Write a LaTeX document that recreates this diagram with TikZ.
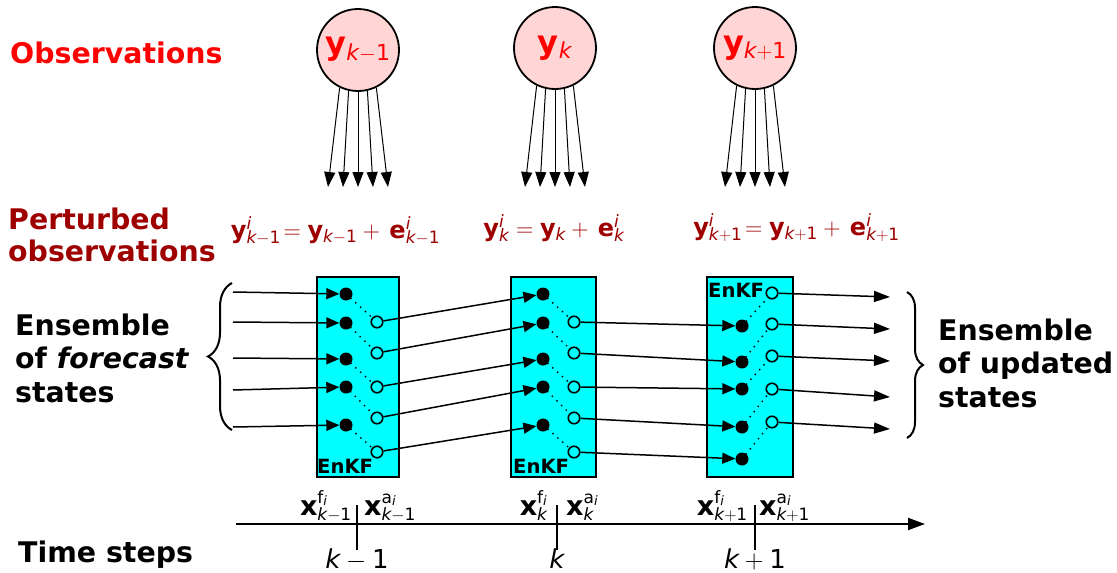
\RequirePackage{fix-cm}
\documentclass[tikz,border=0pt]{standalone}
\usepackage{fontspec}
\setmainfont{DejaVu Sans}
\usetikzlibrary{arrows.meta,decorations.pathreplacing}
\definecolor{obsred}{RGB}{255,0,0}
\definecolor{pertred}{RGB}{158,0,0}
\definecolor{circfill}{RGB}{255,213,213}
\definecolor{boxcyan}{RGB}{0,255,255}
\DeclareMathSizes{32}{32}{22}{16}
\DeclareMathSizes{24}{24}{17}{13}
\DeclareMathSizes{27}{27}{17}{13}
\DeclareMathSizes{26}{26}{18}{13}
\begin{document}
\begin{tikzpicture}[x=1pt,y=-1pt,
  obs/.style={circle,draw=black,line width=1.8pt,fill=circfill,minimum size=82pt,inner sep=0pt,text=obsred,font=\fontsize{32}{36}\selectfont},
  fanarrow/.style={line width=1pt,-{Triangle[length=15pt,width=11pt]}},
  kfbox/.style={draw=black,line width=1.2pt,fill=boxcyan,minimum height=200pt,inner sep=0pt},
  fdot/.style={circle,fill=black,minimum size=13pt,inner sep=0pt},
  adot/.style={circle,draw=black,line width=1.6pt,minimum size=11.5pt,inner sep=0pt},
  link/.style={line width=1.5pt,-{Triangle[length=13pt,width=11pt]}},
  outarrow/.style={line width=1.5pt,-{Triangle[length=16pt,width=11pt]}},
  dotline/.style={line width=2pt,line cap=round,dash pattern=on 0pt off 6.5pt},
  lbl/.style={inner sep=0pt,font=\bfseries\fontsize{28.4}{34}\selectfont},
  eqn/.style={inner sep=0pt,text=pertred,font=\fontsize{24}{28}\selectfont,anchor=base},
  kflbl/.style={inner sep=0pt,font=\bfseries\fontsize{19.6}{22}\selectfont,anchor=base west},
  tlbl/.style={inner sep=0pt,font=\fontsize{27}{30}\selectfont},
  idx/.style={inner sep=0pt,font=\fontsize{26}{30}\selectfont,anchor=base},
  brace/.style={line width=2pt,decorate},
  axis/.style={line width=2pt,-{Triangle[length=17pt,width=12pt]}},
  tick/.style={line width=2.5pt}]
\useasboundingbox (0,0) rectangle (1117,573);

% ---- labels on the left
\node[lbl,text=obsred,anchor=base west] (tobs) at (10,63) {Observations};
\node[lbl,text=pertred,anchor=base west] (tpert1) at (8,229) {Perturbed};
\node[lbl,text=pertred,anchor=base west] (tpert2) at (8,261) {observations};
\node[lbl,anchor=base west] (tfc1) at (15,335) {Ensemble};
\node[lbl,anchor=base west] (tfc2) at (15,368.5) {of \textit{forecast}};
\node[lbl,anchor=base west] (tfc3) at (15,402) {states};
\node[lbl,anchor=base west] (tup1) at (938,340) {Ensemble};
\node[lbl,anchor=base west] (tup2) at (938,373.5) {of updated};
\node[lbl,anchor=base west] (tup3) at (938,407) {states};
\node[lbl,anchor=base west] (tts) at (18,562) {Time steps};

% ---- observation circles and fans
\node[obs] (o1) at (358,50) {$\mathbf{y}_{\mathit{k}-\mathrm{1}}$};
\node[obs] (o2) at (555,48) {$\mathbf{y}_{\mathit{k}}$};
\node[obs] (o3) at (755,48) {$\mathbf{y}_{\mathit{k}+\mathrm{1}}$};
\foreach \o/\cx in {o1/358,o2/555,o3/755}{
  \foreach \a/\dx [count=\j] in {-116/-30,-103/-15,-90/0,-77/15,-64/30}{
    \coordinate (\o e\j) at (\cx+\dx,187);
    \draw[fanarrow] (\o.\a) -- (\o e\j);
  }
}

% ---- perturbed observations
\node[eqn] (eq1) at (335.5,238) {$\mathbf{y}^{\mathit{i}}_{\mathit{k}-\mathrm{1}}\!=\mathbf{y}_{\mathit{k}-\mathrm{1}}+\,\mathbf{e}^{\mathit{i}}_{\mathit{k}-\mathrm{1}}$};
\node[eqn] (eq2) at (554,236) {$\mathbf{y}^{\mathit{i}}_{\mathit{k}}=\mathbf{y}_{\mathit{k}}+\,\mathbf{e}^{\mathit{i}}_{\mathit{k}}$};
\node[eqn] (eq3) at (796.5,235) {$\mathbf{y}^{\mathit{i}}_{\mathit{k}+\mathrm{1}}\!=\mathbf{y}_{\mathit{k}+\mathrm{1}}+\,\mathbf{e}^{\mathit{i}}_{\mathit{k}+\mathrm{1}}$};

% ---- EnKF boxes
\node[kfbox,minimum width=82pt] (b1) at (358,377) {};
\node[kfbox,minimum width=85pt] (b2) at (553.5,377) {};
\node[kfbox,minimum width=86pt] (b3) at (750,377) {};
\node[kflbl] (k1) at (317,473) {EnKF};
\node[kflbl] (k2) at (513,473) {EnKF};
\node[kflbl] (k3) at (708,297) {EnKF};

% ---- ensemble members
\foreach \fy/\ay [count=\j] in {294/322,323/353,359/387,387/418,425/452}{
  \node[fdot] (f1\j) at (346,\fy) {};
  \node[adot] (a1\j) at (377,\ay) {};
  \node[fdot] (f2\j) at (543,\fy) {};
  \node[adot] (a2\j) at (574,\ay) {};
}
\foreach \fy/\ay [count=\j] in {326/293,362/324,389/356,427/389,459/422}{
  \node[fdot] (f3\j) at (742,\fy) {};
  \node[adot] (a3\j) at (772,\ay) {};
}
\foreach \j in {1,...,5}{
  \draw[dotline] (f1\j) -- (a1\j);
  \draw[dotline] (f2\j) -- (a2\j);
  \draw[dotline] (f3\j) -- (a3\j);
  \draw[link] (a1\j) -- (f2\j);
  \draw[link] (a2\j) -- (f3\j);
}
\foreach \y [count=\j] in {292,322,358,390,427}{
  \coordinate (in\j) at (233,\y);
  \draw[link] (in\j) -- (f1\j);
}
\foreach \y [count=\j] in {297,329,361,397,429}{
  \coordinate (out\j) at (890,\y);
  \draw[outarrow] (a3\j) -- (out\j);
}

% ---- braces
\coordinate (lb0) at (232,430);
\coordinate (lb1) at (232,283);
\draw[brace,decoration={brace,amplitude=24pt}] (lb0) -- (lb1);
\coordinate (rb0) at (907,292);
\coordinate (rb1) at (907,438);
\draw[brace,decoration={brace,amplitude=16pt}] (rb0) -- (rb1);

% ---- time axis
\coordinate (ax0) at (236,524);
\coordinate (ax1) at (925,524);
\draw[axis] (ax0) -- (ax1);
\foreach \tx [count=\j] in {357,557,755}{
  \coordinate (ta\j) at (\tx,505);
  \coordinate (tb\j) at (\tx,550);
  \draw[tick] (ta\j) -- (tb\j);
}
\node[tlbl,anchor=base east] (xf1) at (352,515) {$\mathbf{x}^{\mathrm{f}_{\mathit{i}}}_{\mathit{k}-\mathrm{1}}$};
\node[tlbl,anchor=base west] (xa1) at (364,515) {$\mathbf{x}^{\mathrm{a}_{\mathit{i}}}_{\mathit{k}-\mathrm{1}}$};
\node[tlbl,anchor=base east] (xf2) at (548,515) {$\mathbf{x}^{\mathrm{f}_{\mathit{i}}}_{\mathit{k}}$};
\node[tlbl,anchor=base west] (xa2) at (566,515) {$\mathbf{x}^{\mathrm{a}_{\mathit{i}}}_{\mathit{k}}$};
\node[tlbl,anchor=base east] (xf3) at (748,515) {$\mathbf{x}^{\mathrm{f}_{\mathit{i}}}_{\mathit{k}+\mathrm{1}}$};
\node[tlbl,anchor=base west] (xa3) at (759,515) {$\mathbf{x}^{\mathrm{a}_{\mathit{i}}}_{\mathit{k}+\mathrm{1}}$};
\node[idx] (i1) at (357,568) {$\mathit{k}-\mathrm{1}$};
\node[idx] (i2) at (557,568) {$\mathit{k}$};
\node[idx] (i3) at (755,568) {$\mathit{k}+\mathrm{1}$};
\end{tikzpicture}
\end{document}
